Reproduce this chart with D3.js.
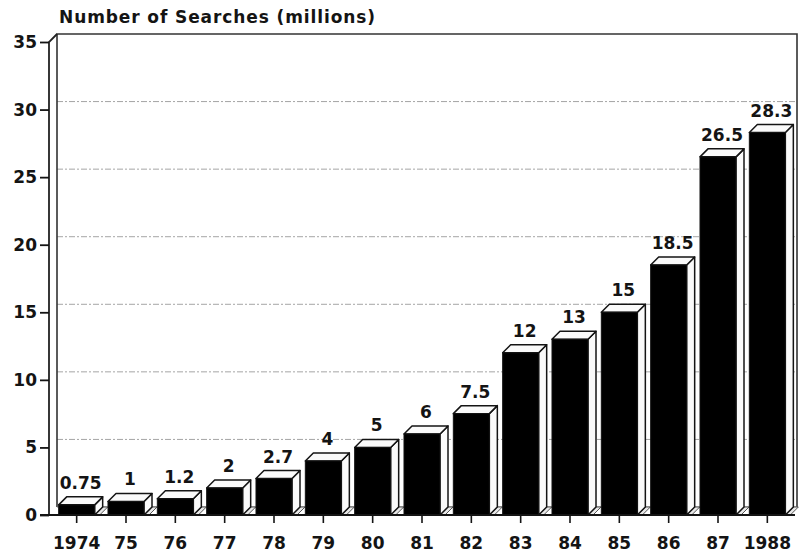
<!DOCTYPE html>
<html>
<head>
<meta charset="utf-8">
<script src="https://cdn.jsdelivr.net/npm/d3@7"></script>
<style>
  body { margin: 0; background: #fff; }
  svg { display: block; }
</style>
</head>
<body>
<div id="chart"></div>
<script>
var years = ["1974", "75", "76", "77", "78", "79", "80", "81", "82", "83", "84", "85", "86", "87", "1988"];
var searches = [0.75, 1, 1.2, 2, 2.7, 4, 5, 6, 7.5, 12, 13, 15, 18.5, 26.5, 28.3];
var valueLabels = ["0.75", "1", "1.2", "2", "2.7", "4", "5", "6", "7.5", "12", "13", "15", "18.5", "26.5", "28.3"];
var yTicks = [0, 5, 10, 15, 20, 25, 30, 35];

var width = 800, height = 558;
var depth = 8; // 3d offset
var font = "'DejaVu Sans', Verdana, sans-serif";
var ink = "#141414";

var svg = d3.select("#chart").append("svg")
	.attr("width", width)
	.attr("height", height);

var y = d3.scaleLinear()
	.domain([0, 35])
	.range([515, 42]);

var x = d3.scaleBand()
	.domain(years)
	.range([52, 792])
	.paddingInner(0.27)
	.paddingOuter(0.135);

var left = 49, right = 797;

// title
svg.append("text")
	.attr("x", 59)
	.attr("y", 23)
	.attr("font-family", font)
	.attr("font-weight", "bold")
	.attr("font-size", 17)
	.attr("letter-spacing", 0.9)
	.attr("fill", ink)
	.text("Number of Searches (millions)");

// back wall gridlines
svg.append("g")
	.selectAll("line")
	.data(yTicks.filter(function(d){ return d > 0 && d < 35; }))
	.join("line")
	.attr("x1", left + depth)
	.attr("x2", right)
	.attr("y1", function(d){ return y(d) - depth; })
	.attr("y2", function(d){ return y(d) - depth; })
	.attr("stroke", "#a5a5a5")
	.attr("stroke-width", 1)
	.attr("stroke-dasharray", "6,2,2,2");

// frame: back wall box
svg.append("path")
	.attr("d", "M" + (left + depth) + "," + (y(0) - depth) +
		"V" + (y(35) - depth) + "H" + right + "V" + (y(0) - depth))
	.attr("fill", "none")
	.attr("stroke", "#333")
	.attr("stroke-width", 1.6);

// front left axis and the corner joining it to the wall
svg.append("path")
	.attr("d", "M" + left + "," + y(0) + "V" + y(35) +
		"L" + (left + depth) + "," + (y(35) - depth))
	.attr("fill", "none")
	.attr("stroke", "#222")
	.attr("stroke-width", 1.8);

// floor back line
svg.append("line")
	.attr("x1", left + depth)
	.attr("x2", right)
	.attr("y1", y(0) - depth)
	.attr("y2", y(0) - depth)
	.attr("stroke", "#777")
	.attr("stroke-width", 1);

// y axis
var yAxis = svg.append("g")
	.attr("transform", "translate(" + left + ",0)")
	.call(d3.axisLeft(y).tickValues(yTicks).tickSize(9).tickPadding(3));
yAxis.select(".domain").remove();
yAxis.selectAll("line").attr("stroke", ink).attr("stroke-width", 1.8);
yAxis.selectAll("text")
	.attr("font-family", font)
	.attr("font-weight", "bold")
	.attr("font-size", 17)
	.attr("fill", ink);

// bars
var bars = svg.append("g")
	.selectAll("g")
	.data(searches)
	.join("g");

// floor shadow under each bar side
bars.append("path")
	.attr("d", function(d, i){
		var x1 = x(years[i]) + x.bandwidth();
		var b = y(0);
		return "M" + x1 + "," + b + "l" + depth + "," + (-depth) + "h5l-" + depth + "," + depth + "z";
	})
	.attr("fill", "#e8e8e8")
	.attr("stroke", "#555")
	.attr("stroke-width", 1);

// right side face
bars.append("path")
	.attr("d", function(d, i){
		var x1 = x(years[i]) + x.bandwidth();
		var t = y(d), b = y(0);
		return "M" + x1 + "," + t + "l" + depth + "," + (-depth) +
			"V" + (b - depth) + "L" + x1 + "," + b + "z";
	})
	.attr("fill", "#fafafa")
	.attr("stroke", ink)
	.attr("stroke-width", 1.5)
	.attr("stroke-linejoin", "round");

// top face
bars.append("path")
	.attr("d", function(d, i){
		var x0 = x(years[i]), x1 = x0 + x.bandwidth();
		var t = y(d);
		return "M" + x0 + "," + t + "l" + depth + "," + (-depth) +
			"H" + (x1 + depth) + "L" + x1 + "," + t + "z";
	})
	.attr("fill", "#fafafa")
	.attr("stroke", ink)
	.attr("stroke-width", 1.5)
	.attr("stroke-linejoin", "round");

// front face
bars.append("rect")
	.attr("x", function(d, i){ return x(years[i]); })
	.attr("y", function(d){ return y(d); })
	.attr("width", x.bandwidth())
	.attr("height", function(d){ return y(0) - y(d); })
	.attr("fill", "#000")
	.attr("stroke", ink)
	.attr("stroke-width", 1);

// value labels
bars.append("text")
	.attr("x", function(d, i){ return x(years[i]) + x.bandwidth() / 2 + depth / 2; })
	.attr("y", function(d){ return y(d) - depth - 8; })
	.attr("text-anchor", "middle")
	.attr("font-family", font)
	.attr("font-weight", "bold")
	.attr("font-size", 17)
	.attr("fill", ink)
	.text(function(d, i){ return valueLabels[i]; });

// x axis (front baseline)
var xAxis = svg.append("g")
	.attr("transform", "translate(0," + y(0) + ")")
	.call(d3.axisBottom(x).tickSize(8).tickPadding(14).tickSizeOuter(0));
xAxis.select(".domain")
	.attr("d", "M" + (left - 9) + ",0H" + (right - 2))
	.attr("stroke", ink)
	.attr("stroke-width", 2);
xAxis.selectAll("line").attr("stroke", ink).attr("stroke-width", 1.6);
xAxis.selectAll("text")
	.attr("font-family", font)
	.attr("font-weight", "bold")
	.attr("font-size", 17)
	.attr("fill", ink);
</script>
</body>
</html>
